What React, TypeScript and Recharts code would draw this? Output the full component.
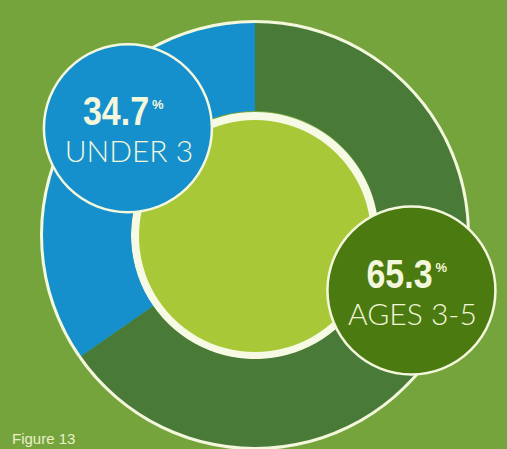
import React from "react";
import { Pie, PieChart } from "recharts";

const groups = ["UNDER 3", "AGES 3-5"];
const shares = [34.7, 65.3];
const ringColors = ["#1590cc", "#497a38"];
const calloutColors = ["#1590cc", "#4b7a10"];
// callouts sit a bit off the slice middle
const calloutShift = [-12.5, 8];

const ringData = groups.map((g, i) => ({ name: g, value: shares[i], fill: ringColors[i] }));
const whole = [{ name: "all", value: 100 }];

const CREAM = "#f3f7dc";

function Callout(props: any) {
    const { cx, cy, midAngle, index } = props;
    const RAD = Math.PI / 180;
    const a = (midAngle + calloutShift[index]) * RAD;
    const x = cx + 166 * Math.cos(-a);
    const y = cy + 166 * Math.sin(-a);
    return (
        <g>
            <circle cx={x} cy={y} r={84} fill={calloutColors[index]} stroke={CREAM} strokeWidth={2.5} />
            {/* condensed look: squeeze a bold face horizontally */}
            <text
                transform={`translate(${x - 45},${y - 3}) scale(0.85,1)`}
                fill={CREAM}
                fontFamily="'Liberation Sans', 'DejaVu Sans', sans-serif"
                fontWeight="bold"
                fontSize={40}>
                {shares[index].toFixed(1)}
            </text>
            <text
                x={x + 24}
                y={y - 19}
                fill={CREAM}
                fontFamily="'Liberation Sans', sans-serif"
                fontWeight="bold"
                fontSize={13}>
                %
            </text>
            <text
                x={x + 1}
                y={y + 34}
                textAnchor="middle"
                fill={CREAM}
                fontFamily="Lato, 'Liberation Sans', sans-serif"
                fontWeight={300}
                fontSize={30}>
                {groups[index]}
            </text>
        </g>
    );
}

export default function App() {
    return (
        <div
            style={{
                position: "fixed",
                left: 0,
                top: 0,
                width: 507,
                height: 449,
                overflow: "hidden",
                background: "#76a43c",
            }}>
            <PieChart width={507} height={449} margin={{ top: 0, right: 0, bottom: 0, left: 0 }}>
                <Pie
                    data={whole}
                    dataKey="value"
                    cx={255}
                    cy={235}
                    innerRadius={211}
                    outerRadius={215}
                    fill={CREAM}
                    stroke="none"
                    isAnimationActive={false}
                />
                <Pie
                    data={whole}
                    dataKey="value"
                    cx={255}
                    cy={236}
                    innerRadius={0}
                    outerRadius={124}
                    fill="#f6f9e4"
                    stroke="none"
                    isAnimationActive={false}
                />
                <Pie
                    data={whole}
                    dataKey="value"
                    cx={255}
                    cy={236}
                    innerRadius={0}
                    outerRadius={116}
                    fill="#a9c838"
                    stroke="none"
                    isAnimationActive={false}
                />
                <Pie
                    data={ringData}
                    dataKey="value"
                    cx={255}
                    cy={235}
                    innerRadius={124}
                    outerRadius={212}
                    startAngle={90}
                    endAngle={450}
                    stroke="none"
                    label={Callout}
                    labelLine={false}
                    isAnimationActive={false}
                />
            </PieChart>
            <div
                style={{
                    position: "absolute",
                    left: 12,
                    top: 430,
                    color: "#e8f0c8",
                    fontFamily: "'Liberation Sans', sans-serif",
                    fontSize: 15,
                    lineHeight: "17px",
                    whiteSpace: "nowrap",
                }}>
                Figure 13
            </div>
        </div>
    );
}
